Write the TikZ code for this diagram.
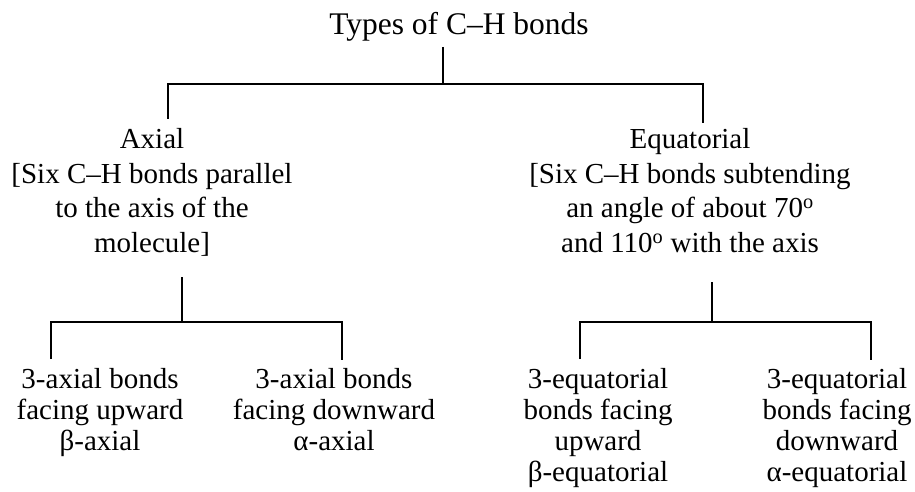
\documentclass[tikz,border=0pt]{standalone}
\usepackage{fontspec}
\setmainfont{Liberation Serif}
\begin{document}
\begin{tikzpicture}[x=1pt,y=-1pt,
  conn/.style={line width=2pt, line join=miter},
  title/.style={font=\fontsize{31.5}{36}\selectfont, inner sep=0pt, anchor=base},
  mid/.style={font=\fontsize{29}{34.7}\selectfont, align=center, inner sep=0pt, anchor=north},
  low/.style={font=\fontsize{29}{31.2}\selectfont, align=center, inner sep=0pt, anchor=north}]
\useasboundingbox (0,0) rectangle (915,492);
% texts
\node[title] (t) at (459,35) {Types of C--H bonds};
\node[mid] (ax) at (152,128) {Axial\\{}[Six C--H bonds parallel\\to the axis of the\\molecule]};
\node[mid] (eq) at (690,128) {Equatorial\\{}[Six C--H bonds subtending\\an angle of about 70\textsuperscript{o}\\and 110\textsuperscript{o} with the axis};
\node[low] (ba) at (100,368) {3-axial bonds\\facing upward\\β-axial};
\node[low] (aa) at (334,368) {3-axial bonds\\facing downward\\α-axial};
\node[low] (be) at (598,368) {3-equatorial\\bonds facing\\upward\\β-equatorial};
\node[low] (ae) at (837,368) {3-equatorial\\bonds facing\\downward\\α-equatorial};
% junction coordinates
\coordinate (t0) at (443,47);
\coordinate (t1) at (443,84);
\coordinate (axtop) at (168,119);
\coordinate (eqtop) at (703,123);
\coordinate (axb0) at (182,277);
\coordinate (axb1) at (182,322);
\coordinate (batop) at (51,359);
\coordinate (aatop) at (342,360);
\coordinate (eqb0) at (712,282);
\coordinate (eqb1) at (712,322);
\coordinate (betop) at (580,359);
\coordinate (aetop) at (871,360);
% connectors
\draw[conn] (t0) -- (t1);
\draw[conn] (axtop) |- (t1) -| (eqtop);
\draw[conn] (axb0) -- (axb1);
\draw[conn] (batop) |- (axb1) -| (aatop);
\draw[conn] (eqb0) -- (eqb1);
\draw[conn] (betop) |- (eqb1) -| (aetop);
\end{tikzpicture}
\end{document}
